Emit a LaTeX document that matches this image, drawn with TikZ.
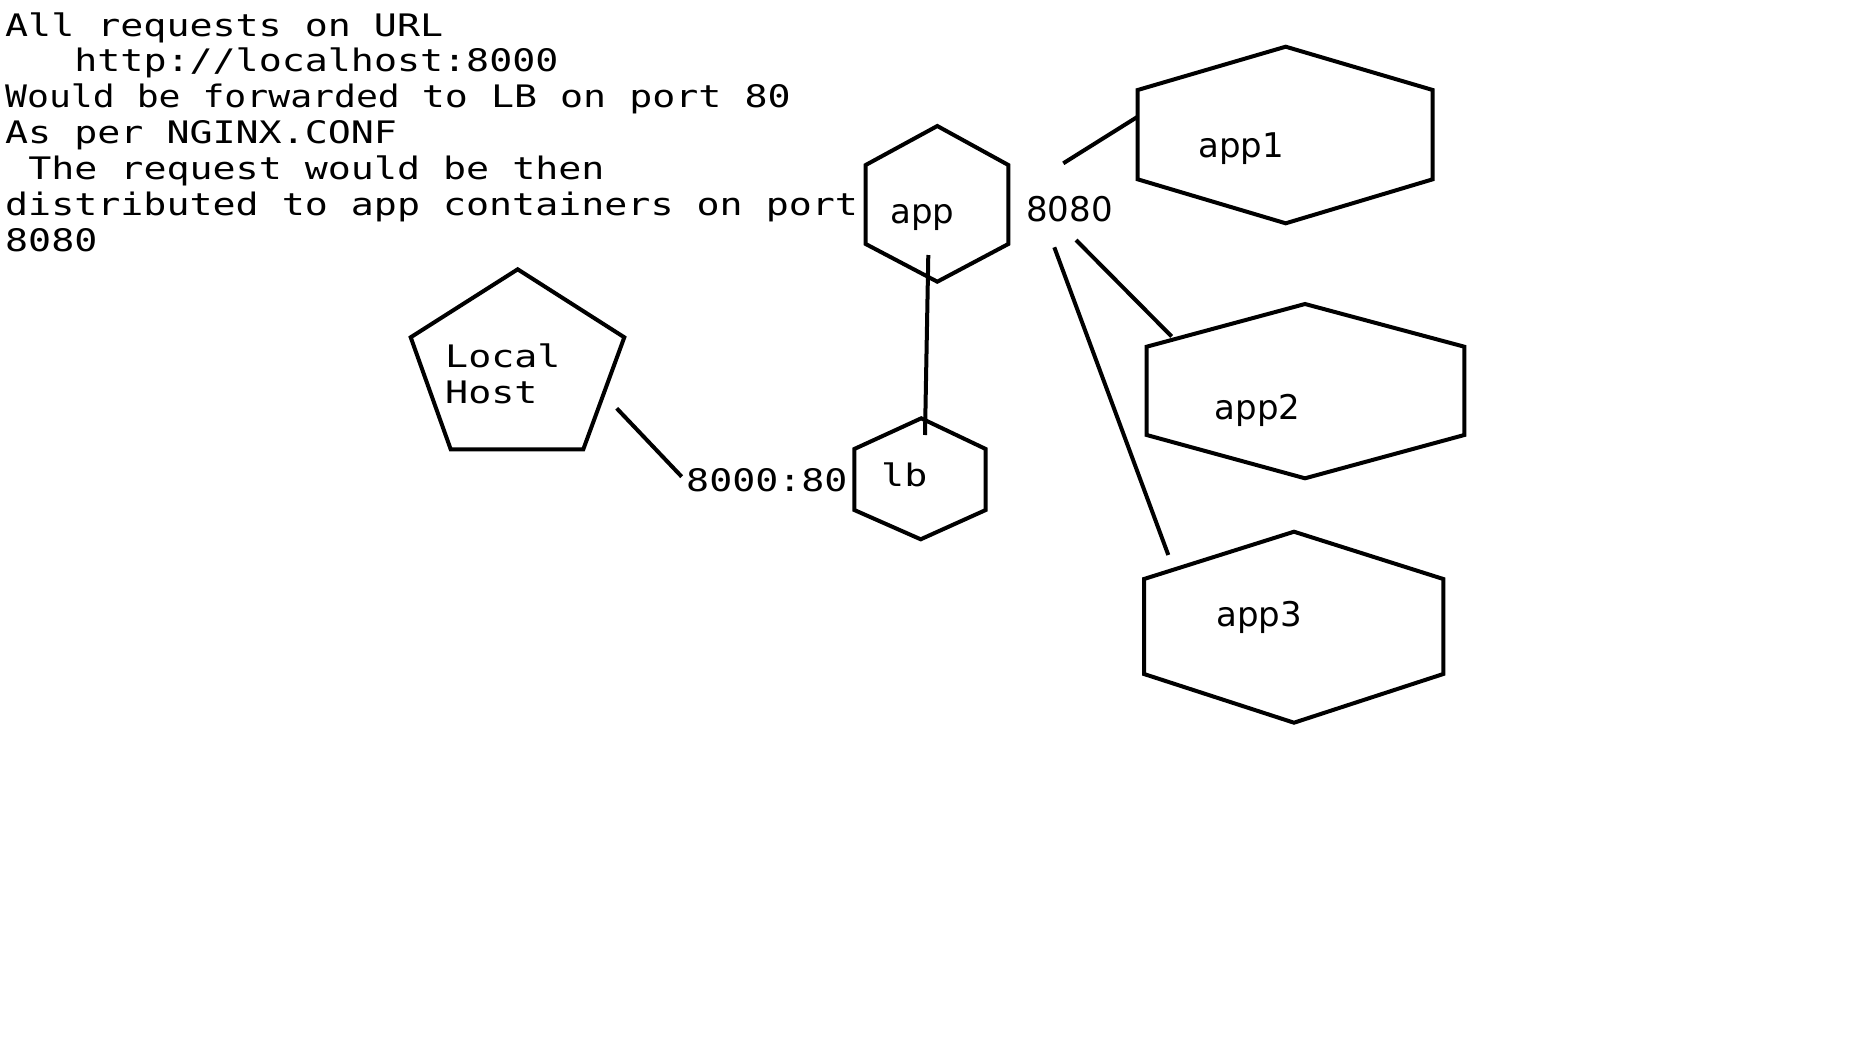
\documentclass[tikz,border=0pt]{standalone}
\usepackage{fontspec}
\newfontfamily\monof[FakeStretch=1.235]{DejaVu Sans Mono}
\newfontfamily\monon[FakeStretch=1.175]{DejaVu Sans Mono}
\newfontfamily\sansf{DejaVu Sans}
\begin{document}
\begin{tikzpicture}[x=1pt,y=-1pt,
  shapeline/.style={draw=black, line width=4pt},
  conn/.style={draw=black, line width=4pt},
  monotext/.style={inner sep=0pt, anchor=base west, font=\monof\fontsize{31}{36}\selectfont},
  sanstext/.style={inner sep=0pt, anchor=base west, font=\sansf\fontsize{34}{40}\selectfont}]
\fill[white] (0,0) rectangle (1866,1058);
\useasboundingbox (0,0) rectangle (1866,1058);

% top description
\node[monotext] (t1) at (5,36.3) {All requests on URL};
\node[monotext] (t2) at (74.2,71.9) {http://localhost:8000};
\node[monotext] (t3) at (5,107.6) {{\monon Would be forwarded }to LB on port 80};
\node[monotext] (t4) at (5,143.4) {As per NGINX.CONF};
\node[monotext] (t5) at (28.1,179.2) {The request would be then};
\node[monotext] (t6) at (5,215.1) {distributed to app containers on port};
\node[monotext] (t7) at (5,251.0) {8080};

% Local Host pentagon
\draw[shapeline] (517.7,269.3) -- (624.3,337.3) -- (583.3,449.3) -- (450.7,449.3) -- (410.7,337.3) -- cycle;
\node[monotext] (local) at (445,367.7) {Local};
\node[monotext] (host) at (445,403.3) {Host};

% lb hexagon
\draw[shapeline] (921.2,418.3) -- (985.7,449) -- (985.7,510) -- (920.7,539.3) -- (854.3,510) -- (854.3,449) -- cycle;
\node[monotext] (lb) at (881,486.7) {lb};
\node[monotext] (port8000) at (686,491.7) {8000:80};

% app hexagon
\draw[shapeline] (937.3,126) -- (1008.3,165) -- (1008.3,244) -- (937.3,281.7) -- (865.7,244) -- (865.7,165) -- cycle;
\node[sanstext] (app) at (890,223.3) {app};
\node[sanstext] (port8080) at (1026,221.7) {8080};

% app1 hexagon
\draw[shapeline] (1285.7,46.7) -- (1432.7,90) -- (1432.7,179.3) -- (1285.7,223.3) -- (1137.7,179.3) -- (1137.7,90) -- cycle;
\node[sanstext] (app1) at (1198,157.3) {app1};

% app2 hexagon
\draw[shapeline] (1305,304) -- (1464.3,346.7) -- (1464.3,435) -- (1305,478.3) -- (1146.7,435) -- (1146.7,346.7) -- cycle;
\node[sanstext] (app2) at (1214.7,419.3) {app2};

% app3 hexagon
\draw[shapeline] (1294,531.7) -- (1443.3,579) -- (1443.3,674) -- (1294,722.7) -- (1144,674) -- (1144,579) -- cycle;
\node[sanstext] (app3) at (1216.3,626.7) {app3};

% connector end points
\coordinate (lhOut) at (616.7,408.3);
\coordinate (lbIn) at (681.7,476.7);
\coordinate (appS) at (928.3,255);
\coordinate (lbN) at (925,435);
\coordinate (p1a) at (1063.3,163.3);
\coordinate (p1b) at (1137.7,116.7);
\coordinate (p2a) at (1076,240);
\coordinate (p2b) at (1171.7,336.5);
\coordinate (p3a) at (1054.3,247.3);
\coordinate (p3b) at (1168.3,555);

\draw[conn] (lhOut) -- (lbIn);
\draw[conn] (appS) -- (lbN);
\draw[conn] (p1a) -- (p1b);
\draw[conn] (p2a) -- (p2b);
\draw[conn] (p3a) -- (p3b);
\end{tikzpicture}
\end{document}
